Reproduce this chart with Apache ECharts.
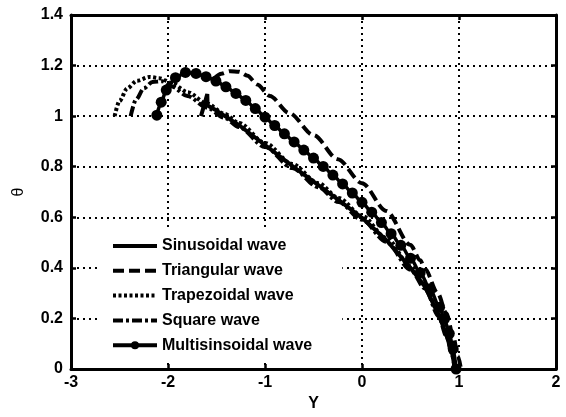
<!DOCTYPE html>
<html>
<head>
<meta charset="utf-8">
<script src="https://cdn.jsdelivr.net/npm/echarts@6/dist/echarts.min.js"></script>
<style>
  html, body { margin: 0; padding: 0; background: #fff; }
  #chart { width: 566px; height: 417px; }
</style>
</head>
<body>
<div id="chart"></div>
<script>
// Axis ranges and ticks
const xTicks = [-3, -2, -1, 0, 1, 2];
const yTicks = [0, 0.2, 0.4, 0.6, 0.8, 1, 1.2, 1.4];

// Phase trajectories: Y (horizontal) against theta (vertical)
const sinusoidalY     = [-1.66, -1.595, -1.592, -1.50, -1.42, -1.27, -1.00, -0.72, -0.45, -0.24, 0.00, 0.25, 0.50, 0.65, 0.79, 0.87, 0.93, 0.96];
const sinusoidalTheta = [1.00, 1.087, 1.042, 1.022, 1.002, 0.965, 0.886, 0.803, 0.727, 0.668, 0.598, 0.510, 0.400, 0.325, 0.215, 0.135, 0.060, 0.000];

const triangularY     = [-1.52, -1.45, -1.36, -1.27, -1.18, -1.08, -0.95, -0.75, -0.50, -0.25, 0.00, 0.25, 0.50, 0.60, 0.65, 0.78, 0.87, 0.94, 0.99, 1.02];
const triangularTheta = [1.150, 1.168, 1.178, 1.176, 1.160, 1.125, 1.080, 1.012, 0.925, 0.830, 0.735, 0.625, 0.490, 0.430, 0.395, 0.300, 0.220, 0.130, 0.050, 0.000];

const trapezoidalY     = [-2.55, -2.50, -2.42, -2.32, -2.19, -2.09, -1.96, -1.80, -1.60, -1.42, -1.27, -1.00, -0.72, -0.45, -0.24, 0.00, 0.25, 0.50, 0.65, 0.79, 0.87, 0.93, 0.968];
const trapezoidalTheta = [1.000, 1.060, 1.110, 1.140, 1.155, 1.150, 1.131, 1.095, 1.050, 1.010, 0.973, 0.894, 0.811, 0.735, 0.676, 0.606, 0.518, 0.408, 0.332, 0.221, 0.140, 0.064, 0.000];

const squareY     = [-2.385, -2.33, -2.25, -2.16, -2.06, -1.96, -1.80, -1.60, -1.42, -1.27, -1.00, -0.72, -0.45, -0.24, 0.00, 0.25, 0.50, 0.65, 0.79, 0.87, 0.93, 0.955];
const squareTheta = [1.000, 1.065, 1.110, 1.135, 1.138, 1.117, 1.080, 1.034, 0.994, 0.957, 0.878, 0.795, 0.719, 0.660, 0.590, 0.503, 0.393, 0.318, 0.209, 0.130, 0.056, 0.000];

const multiY     = [-2.115, -2.07, -2.018, -1.923, -1.82, -1.711, -1.608, -1.506, -1.403, -1.30, -1.198, -1.10, -1.00, -0.90, -0.80, -0.70, -0.60, -0.50, -0.40, -0.30, -0.20, -0.10, 0.00, 0.10, 0.20, 0.30, 0.40, 0.50, 0.60, 0.70, 0.80, 0.85, 0.90, 0.94, 0.97];
const multiTheta = [1.004, 1.055, 1.103, 1.152, 1.173, 1.169, 1.156, 1.139, 1.116, 1.090, 1.062, 1.030, 0.996, 0.963, 0.930, 0.898, 0.866, 0.834, 0.801, 0.767, 0.732, 0.696, 0.659, 0.620, 0.579, 0.535, 0.489, 0.438, 0.381, 0.317, 0.244, 0.198, 0.140, 0.080, 0.000];

const seriesNames = ['Sinusoidal wave', 'Triangular wave', 'Trapezoidal wave', 'Square wave', 'Multisinsoidal wave'];

const FONT = 'Liberation Sans, Arial, sans-serif';
const INK = '#000';
const zip = (xs, ys) => xs.map((x, i) => [x, ys[i]]);

const gridDots = { color: INK, width: 2, type: [2, 4] };
const axisBase = {
  type: 'value',
  axisLine: { show: true, onZero: false, lineStyle: { color: INK, width: 3 } },
  axisTick: { show: true, inside: true, length: 5, lineStyle: { color: INK, width: 2.5 } }
};

function curve(name, xs, ys, dash, smooth) {
  return {
    name, type: 'line', data: zip(xs, ys),
    symbol: 'none', smooth: smooth, smoothMonotone: 'x',
    lineStyle: { color: INK, width: 4, type: dash, cap: 'butt' },
    itemStyle: { color: INK }
  };
}

const chart = echarts.init(document.getElementById('chart'), null, { renderer: 'canvas' });

chart.setOption({
  animation: false,
  backgroundColor: '#fff',
  grid: { left: 71, right: 10, top: 15, bottom: 48, containLabel: false },
  xAxis: [
    Object.assign({}, axisBase, {
      position: 'bottom',
      min: xTicks[0], max: xTicks[xTicks.length - 1], interval: 1,
      name: 'Y', nameLocation: 'middle', nameGap: 25,
      nameTextStyle: { fontFamily: FONT, fontWeight: 'bold', fontSize: 16, color: INK },
      axisLabel: { margin: 6, fontFamily: FONT, fontWeight: 'bold', fontSize: 16, color: INK },
      splitLine: { show: true, lineStyle: gridDots }
    }),
    Object.assign({}, axisBase, {
      position: 'top',
      min: xTicks[0], max: xTicks[xTicks.length - 1], interval: 1,
      axisLabel: { show: false },
      splitLine: { show: false }
    })
  ],
  yAxis: [
    Object.assign({}, axisBase, {
      position: 'left',
      min: yTicks[0], max: yTicks[yTicks.length - 1], interval: 0.2,
      name: 'θ', nameLocation: 'middle', nameGap: 44, nameRotate: 90,
      nameTextStyle: { fontFamily: FONT, fontSize: 16, color: INK },
      axisLabel: { margin: 8, fontFamily: FONT, fontWeight: 'bold', fontSize: 16, color: INK },
      splitLine: { show: true, lineStyle: gridDots }
    }),
    Object.assign({}, axisBase, {
      position: 'right',
      min: yTicks[0], max: yTicks[yTicks.length - 1], interval: 0.2,
      axisLabel: { show: false },
      splitLine: { show: false }
    })
  ],
  legend: {
    orient: 'vertical',
    left: 100, top: 229,
    padding: [9, 30, 9, 11],
    backgroundColor: '#fff',
    itemWidth: 44, itemHeight: 10, itemGap: 8.8,
    lineStyle: { width: 4 },
    data: seriesNames.map((name, i) => i < 4 ? { name, itemStyle: { opacity: 0 } } : { name }),
    textStyle: { fontFamily: FONT, fontWeight: 'bold', fontSize: 16, color: INK }
  },
  series: [
    curve(seriesNames[0], sinusoidalY, sinusoidalTheta, 'solid', false),
    curve(seriesNames[1], triangularY, triangularTheta, [11, 5], 0.3),
    curve(seriesNames[2], trapezoidalY, trapezoidalTheta, [3, 2.5], 0.3),
    curve(seriesNames[3], squareY, squareTheta, [10, 3, 3, 3], 0.3),
    {
      name: seriesNames[4], type: 'line', data: zip(multiY, multiTheta),
      symbol: 'circle', symbolSize: 11, showSymbol: true, smooth: 0.3, smoothMonotone: 'x',
      lineStyle: { color: INK, width: 3.5 }, itemStyle: { color: INK, borderWidth: 0 }
    }
  ]
});
</script>
</body>
</html>
